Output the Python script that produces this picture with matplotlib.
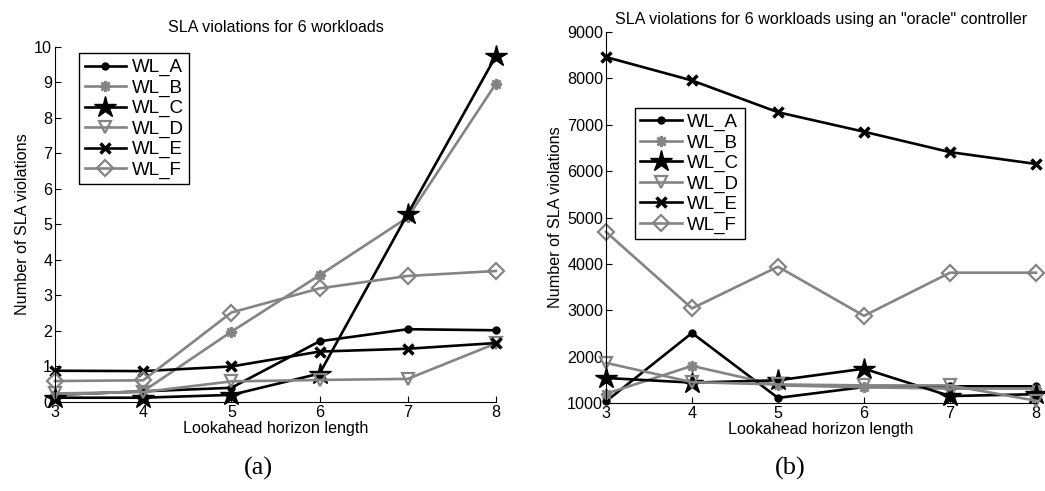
import matplotlib
matplotlib.use("Agg")
import matplotlib.pyplot as plt

plt.rcParams['font.family'] = ['Liberation Sans', 'DejaVu Sans']

horizon = [3, 4, 5, 6, 7, 8]
names = ["WL_A", "WL_B", "WL_C", "WL_D", "WL_E", "WL_F"]

# (a) SLA violations
viol_a = {
    "WL_A": [0.2, 0.3, 0.4, 1.71, 2.05, 2.02],
    "WL_B": [0.2, 0.3, 1.98, 3.57, 5.2, 8.97],
    "WL_C": [0.12, 0.12, 0.2, 0.8, 5.3, 9.75],
    "WL_D": [0.24, 0.28, 0.58, 0.62, 0.65, 1.65],
    "WL_E": [0.88, 0.87, 1.0, 1.42, 1.5, 1.66],
    "WL_F": [0.59, 0.61, 2.52, 3.2, 3.55, 3.69],
}

# (b) SLA violations with oracle controller
viol_b = {
    "WL_A": [1035, 2510, 1110, 1345, 1360, 1360],
    "WL_B": [1200, 1800, 1380, 1340, 1310, 1310],
    "WL_C": [1540, 1440, 1490, 1740, 1150, 1190],
    "WL_D": [1865, 1450, 1400, 1380, 1380, 1050],
    "WL_E": [8460, 7955, 7270, 6850, 6410, 6155],
    "WL_F": [4690, 3040, 3940, 2880, 3810, 3810],
}

gray = "#848484"
styles = {
    "WL_A": dict(color="black", marker="o", ms=5),
    "WL_B": dict(color=gray, marker=(8, 2, 0), ms=8, mew=1.8),
    "WL_C": dict(color="black", marker="*", ms=16),
    "WL_D": dict(color=gray, marker="v", ms=9, mfc="none", mew=1.6),
    "WL_E": dict(color="black", marker="x", ms=7, mew=2.5),
    "WL_F": dict(color=gray, marker="D", ms=8, mfc="none", mew=1.6),
}

fs = 11.6


def style_axes(ax):
    ax.spines['top'].set_visible(False)
    ax.spines['right'].set_visible(False)
    ax.tick_params(direction='in', labelsize=fs, length=4, pad=2)
    ax.set_xticks(horizon)


def add_legend(ax, anchor):
    ax.legend(loc="upper left", bbox_to_anchor=anchor, fontsize=13.5, frameon=True,
              fancybox=False, edgecolor="black", framealpha=1, handlelength=2.2,
              handletextpad=0.3, labelspacing=0.17, borderpad=0.3, borderaxespad=0)


fig = plt.figure(figsize=(10.45, 4.91), dpi=100)

ax1 = fig.add_axes([0.0526, 0.1813, 0.422, 0.723])
for n in names:
    ax1.plot(horizon, viol_a[n], lw=1.9, label=n, clip_on=False, **styles[n])
style_axes(ax1)
ax1.set_xlim(3, 8)
ax1.set_ylim(0, 10)
ax1.set_yticks(range(0, 11))
ax1.set_title("SLA violations for 6 workloads", fontsize=fs, pad=11)
ax1.set_xlabel("Lookahead horizon length", fontsize=fs, labelpad=1)
ax1.set_ylabel("Number of SLA violations", fontsize=fs, labelpad=3)
add_legend(ax1, (0.055, 0.982))

ax2 = fig.add_axes([0.5799, 0.1792, 0.4115, 0.7556])
for n in names:
    ax2.plot(horizon, viol_b[n], lw=1.9, label=n, clip_on=False, **styles[n])
style_axes(ax2)
ax2.set_xlim(3, 8)
ax2.set_ylim(1000, 9000)
ax2.set_yticks(range(1000, 9001, 1000))
ax2.set_title('SLA violations for 6 workloads using an "oracle" controller', fontsize=fs, pad=6)
ax2.set_xlabel("Lookahead horizon length", fontsize=fs, labelpad=1)
ax2.set_ylabel("Number of SLA violations", fontsize=fs, labelpad=3)
add_legend(ax2, (0.067, 0.795))

fig.text(0.2475, 0.045, "(a)", fontsize=19, family="Liberation Serif", ha="center", va="center")
fig.text(0.7565, 0.045, "(b)", fontsize=19, family="Liberation Serif", ha="center", va="center")

fig.savefig("out.png", dpi=100)
